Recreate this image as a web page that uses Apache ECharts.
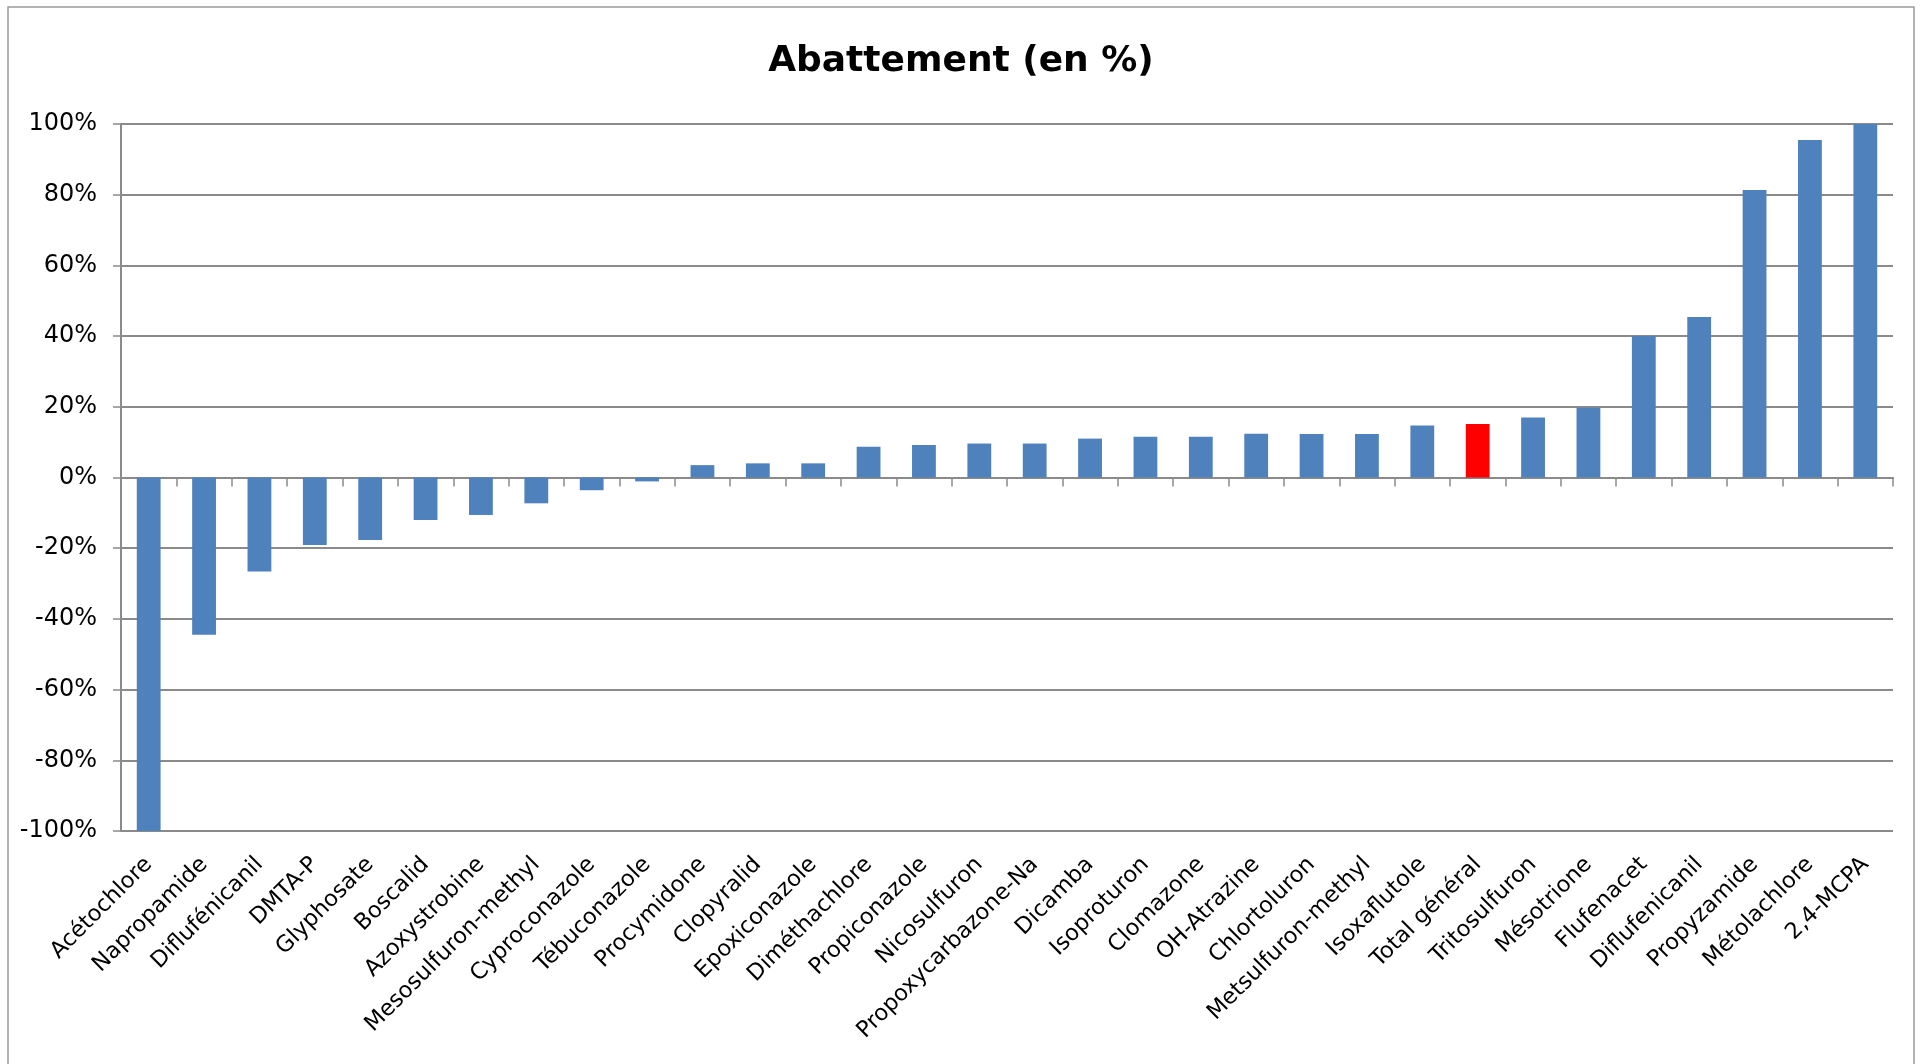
<!DOCTYPE html>
<html>
<head>
<meta charset="utf-8">
<script src="https://cdn.jsdelivr.net/npm/echarts@6/dist/echarts.min.js"></script>
<style>
  html, body { margin: 0; padding: 0; background: #fff; }
  #chart { width: 1922px; height: 1064px; }
</style>
</head>
<body>
<div id="chart"></div>
<script>
// catégories (substances) dans l'ordre du graphique
const categories = [
  'Acétochlore', 'Napropamide', 'Diflufénicanil', 'DMTA-P', 'Glyphosate',
  'Boscalid', 'Azoxystrobine', 'Mesosulfuron-methyl', 'Cyproconazole', 'Tébuconazole',
  'Procymidone', 'Clopyralid', 'Epoxiconazole', 'Diméthachlore', 'Propiconazole',
  'Nicosulfuron', 'Propoxycarbazone-Na', 'Dicamba', 'Isoproturon', 'Clomazone',
  'OH-Atrazine', 'Chlortoluron', 'Metsulfuron-methyl', 'Isoxaflutole', 'Total général',
  'Tritosulfuron', 'Mésotrione', 'Flufenacet', 'Diflufenicanil', 'Propyzamide',
  'Métolachlore', '2,4-MCPA'
];

// abattement en %
const abattement = [
  -100, -44.5, -26.6, -19.1, -17.7,
  -12.0, -10.6, -7.3, -3.6, -1.1,
  3.5, 4.0, 4.0, 8.7, 9.2,
  9.6, 9.6, 11.0, 11.5, 11.5,
  12.4, 12.3, 12.3, 14.7, 15.1,
  17.0, 19.7, 40.0, 45.4, 81.3,
  95.5, 100
];

// graduations de l'axe Y
const yTicks = [-100, -80, -60, -40, -20, 0, 20, 40, 60, 80, 100];

const totalLabel = 'Total général';
const blue = '#4F81BD';
const red = '#FF0000';
const grey = '#8A8A8A';

const barData = abattement.map((v, i) => ({
  value: v,
  itemStyle: { color: categories[i] === totalLabel ? red : blue }
}));

const chart = echarts.init(document.getElementById('chart'));
chart.setOption({
  animation: false,
  backgroundColor: '#fff',
  title: {
    text: 'Abattement (en %)',
    left: 'center',
    top: 39,
    textStyle: { fontFamily: 'DejaVu Sans', fontWeight: 'bold', fontSize: 36, color: '#000' }
  },
  graphic: [{
    type: 'rect',
    shape: { x: 8, y: 7, width: 1906, height: 1070 },
    style: { fill: 'none', stroke: '#9a9a9a', lineWidth: 1.5 },
    silent: true
  }],
  grid: { left: 121, right: 29, top: 124, bottom: 233 },
  xAxis: [
    {
      // axe des libellés, en bas
      type: 'category',
      data: categories,
      position: 'bottom',
      axisLine: { show: false, onZero: false },
      axisTick: { show: false },
      axisLabel: {
        rotate: 45,
        interval: 0,
        margin: 30,
        fontFamily: 'DejaVu Sans',
        fontSize: 22.5,
        color: '#000'
      }
    },
    {
      // axe à zéro avec les graduations
      type: 'category',
      data: categories,
      position: 'top',
      axisLine: { show: true, onZero: true, lineStyle: { color: grey, width: 2 } },
      axisTick: { show: true, inside: true, interval: 0, length: 9, lineStyle: { color: grey, width: 1.5 } },
      axisLabel: { show: false }
    }
  ],
  yAxis: {
    type: 'value',
    min: yTicks[0],
    max: yTicks[yTicks.length - 1],
    interval: 20,
    axisLine: { show: true, lineStyle: { color: grey, width: 2 } },
    axisTick: { show: true, length: 8, lineStyle: { color: grey, width: 1.5 } },
    splitLine: { show: true, lineStyle: { color: grey, width: 2 } },
    axisLabel: {
      margin: 24,
      fontFamily: 'DejaVu Sans',
      fontSize: 24,
      color: '#000',
      formatter: v => v + '%'
    }
  },
  series: [{
    type: 'bar',
    xAxisIndex: 0,
    data: barData,
    barWidth: '43%',
    clip: false
  }]
});
</script>
</body>
</html>
